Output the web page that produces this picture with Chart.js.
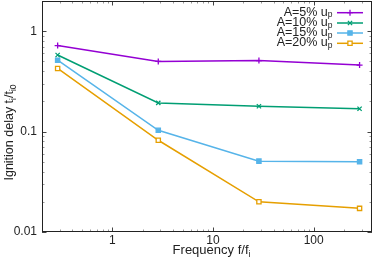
<!DOCTYPE html>
<html><head><meta charset="utf-8">
<script src="https://cdn.jsdelivr.net/npm/chart.js@4/dist/chart.umd.min.js"></script>
<style>html,body{margin:0;padding:0;background:#fff}#wrap{width:374px;height:264px;position:relative}</style>
</head><body><div id="wrap"><canvas id="c" width="374" height="264"></canvas></div>
<script>
const freq = [0.286, 2.86, 28.6, 286];
const a5  = [0.72, 0.50, 0.51, 0.46];
const a10 = [0.58, 0.193, 0.179, 0.169];
const a15 = [0.515, 0.103, 0.0508, 0.050];
const a20 = [0.426, 0.082, 0.020, 0.0172];
const seriesNames = ['A=5% u', 'A=10% u', 'A=15% u', 'A=20% u'];
const seriesSub = 'p';
const colors = ['#9400d3', '#009e73', '#56b4e9', '#e69f00'];
const yTickLabels = [0.01, 0.1, 1];
const xTickLabels = [1, 10, 100];
const xTitle = 'Frequency f/f';
const xTitleSub = 'i';
const yTitleParts = [['Ignition delay t', false], ['i', true], ['/t', false], ['i0', true]];

const FONT = '"Liberation Sans", Arial, sans-serif';
const pts = ['cross', 'crossRot', 'rect', 'rect'];
const fills = [colors[0], colors[1], colors[2], '#ffffff'];
const allSeries = [a5, a10, a15, a20];

const datasets = allSeries.map((s, i) => ({
  label: seriesNames[i] + seriesSub,
  data: freq.map((f, j) => ({x: f, y: s[j]})),
  borderColor: colors[i],
  backgroundColor: fills[i],
  pointBorderColor: colors[i],
  pointBackgroundColor: fills[i],
  pointStyle: pts[i],
  pointRadius: 3,
  pointBorderWidth: 1.3,
  borderWidth: 1.5,
  showLine: true,
  tension: 0
}));

function near(v, list) { return list.some(t => Math.abs(v - t) / t < 1e-6); }

const decor = {
  id: 'decor',
  afterDraw(chart) {
    const ctx = chart.ctx, a = chart.chartArea;
    const xs = chart.scales.x, ys = chart.scales.y;
    ctx.save();
    function tick(p, major, axis) {
      const len = major ? 4.5 : 2.5;
      ctx.strokeStyle = major ? '#444' : '#999';
      ctx.lineWidth = 1;
      ctx.beginPath();
      if (axis === 'x') {
        ctx.moveTo(p, a.bottom); ctx.lineTo(p, a.bottom - len);
        ctx.moveTo(p, a.top); ctx.lineTo(p, a.top + len);
      } else {
        ctx.moveTo(a.left, p); ctx.lineTo(a.left + len, p);
        ctx.moveTo(a.right, p); ctx.lineTo(a.right - len, p);
      }
      ctx.stroke();
    }
    for (let d = 0.1; d <= 1000; d *= 10) {
      for (let k = 1; k <= 9; k++) {
        const v = d * k;
        if (v >= xs.min && v <= xs.max) {
          const p = Math.round(xs.getPixelForValue(v)) + 0.5;
          tick(p, k === 1, 'x');
        }
      }
    }
    for (let d = 0.01; d <= 10; d *= 10) {
      for (let k = 1; k <= 9; k++) {
        const v = d * k;
        if (v >= ys.min && v <= ys.max) {
          const p = Math.round(ys.getPixelForValue(v)) + 0.5;
          tick(p, k === 1, 'y');
        }
      }
    }
    ctx.strokeStyle = '#222';
    ctx.lineWidth = 1;
    ctx.strokeRect(a.left + 0.5, a.top + 0.5, a.right - a.left - 1, a.bottom - a.top - 1);
    ctx.fillStyle = '#222';
    // x title
    ctx.font = '13px ' + FONT;
    ctx.textBaseline = 'alphabetic';
    const w1 = ctx.measureText(xTitle).width;
    ctx.font = '8.5px ' + FONT;
    const w2 = ctx.measureText(xTitleSub).width;
    const cx = (a.left + a.right) / 2 + 4.5;
    let sx = cx - (w1 + w2) / 2;
    ctx.font = '13px ' + FONT;
    ctx.textAlign = 'left';
    ctx.fillText(xTitle, sx, 253.5);
    ctx.font = '8.5px ' + FONT;
    ctx.fillText(xTitleSub, sx + w1, 257);
    // y title rotated
    ctx.save();
    ctx.translate(12.5, 132.5);
    ctx.rotate(-Math.PI / 2);
    let tw = 0;
    yTitleParts.forEach(([t, sub]) => { ctx.font = (sub ? '8.5px ' : '12.5px ') + FONT; tw += ctx.measureText(t).width; });
    let px = -tw / 2;
    yTitleParts.forEach(([t, sub]) => {
      ctx.font = (sub ? '8.5px ' : '12.5px ') + FONT;
      ctx.fillText(t, px, sub ? 3 : 0);
      px += ctx.measureText(t).width;
    });
    ctx.restore();
    // legend
    const rowY = [12.7, 23, 33, 43.3];
    chart.data.datasets.forEach((ds, i) => {
      const y = rowY[i];
      ctx.font = '8.5px ' + FONT;
      const ws = ctx.measureText(seriesSub).width;
      ctx.font = '12.5px ' + FONT;
      ctx.textAlign = 'right';
      ctx.textBaseline = 'alphabetic';
      ctx.fillStyle = '#222';
      ctx.fillText(seriesNames[i], 332.5 - ws, y + 3);
      ctx.font = '8.5px ' + FONT;
      ctx.textAlign = 'left';
      ctx.fillText(seriesSub, 332.5 - ws, y + 4.5);
      ctx.strokeStyle = ds.borderColor;
      ctx.lineWidth = 1.5;
      ctx.beginPath(); ctx.moveTo(337, y); ctx.lineTo(363, y); ctx.stroke();
      ctx.fillStyle = ds.pointBackgroundColor;
      ctx.strokeStyle = ds.pointBorderColor;
      ctx.lineWidth = 1.3;
      Chart.helpers.drawPoint(ctx, {pointStyle: ds.pointStyle, radius: 3, borderWidth: 1.3, rotation: 0}, 350, y);
    });
    ctx.restore();
  }
};

new Chart(document.getElementById('c'), {
  type: 'scatter',
  data: {datasets},
  options: {
    responsive: false,
    animation: false,
    devicePixelRatio: 1,
    layout: {autoPadding: false, padding: {top: 1, right: 2, left: 0, bottom: 0}},
    plugins: {legend: {display: false}, tooltip: {enabled: false}},
    scales: {
      x: {
        type: 'logarithmic', min: 0.2, max: 380,
        grid: {display: false, drawTicks: false}, border: {display: false},
        afterFit(s) { s.height = 32; s.paddingLeft = 0; s.paddingRight = 0; },
        ticks: {
          autoSkip: false, maxRotation: 0, padding: 1, color: '#222',
          font: {family: FONT, size: 12},
          callback: v => near(v, xTickLabels) ? String(v) : null
        }
      },
      y: {
        type: 'logarithmic', min: 0.01, max: 2,
        grid: {display: false, drawTicks: false}, border: {display: false},
        afterFit(s) { s.width = 42; s.paddingTop = 0; s.paddingBottom = 0; },
        ticks: {
          autoSkip: false, padding: 5, color: '#222',
          font: {family: FONT, size: 12},
          callback: v => near(v, yTickLabels) ? String(v) : null
        }
      }
    }
  },
  plugins: [decor]
});
</script></body></html>
